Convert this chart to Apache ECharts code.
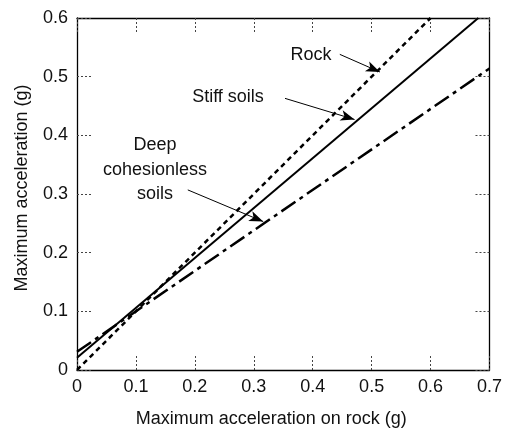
<!DOCTYPE html>
<html>
<head>
<meta charset="utf-8">
<script src="https://cdn.jsdelivr.net/npm/echarts@6/dist/echarts.min.js"></script>
<style>html,body{margin:0;padding:0;background:#fff;}#c{width:505px;height:433px;}</style>
</head>
<body>
<div id="c"></div>
<script>
// Data
const xTicks = [0, 0.1, 0.2, 0.3, 0.4, 0.5, 0.6, 0.7];
const yTicks = [0, 0.1, 0.2, 0.3, 0.4, 0.5, 0.6];
const rockX = [0, 0.6];
const rockY = [0, 0.6];
const stiffX = [0, 0.681];
const stiffY = [0.021, 0.6];
const deepX = [0, 0.7];
const deepY = [0.031, 0.514];
// annotation arrows [fromX, fromY, toX, toY]
const rockArrow = [0.446, 0.538, 0.514, 0.508];
const stiffArrow = [0.353, 0.463, 0.471, 0.427];
const deepArrow = [0.188, 0.307, 0.316, 0.253];

const FONT = '"Liberation Sans", Arial, Helvetica, sans-serif';
const FS = 18;
const zip = (xs, ys) => xs.map((x, i) => [x, ys[i]]);

const chart = echarts.init(document.getElementById('c'), null, {renderer: 'canvas'});

const tickStyle = {show: true, inside: true, length: 15, lineStyle: {color: '#444', width: 1, type: [2, 2]}};
const lineAxis = {show: true, onZero: false, lineStyle: {color: '#000', width: 1.3}};

function arrow(a) {
  return {
    silent: true,
    symbol: ['none', 'arrow'],
    symbolSize: [8, 14],
    label: {show: false},
    lineStyle: {color: '#000', width: 1, type: 'solid'},
    data: [[{coord: [a[0], a[1]]}, {coord: [a[2], a[3]]}]]
  };
}

function txt(s, x, y) {
  return {type: 'text', x: x, y: y, style: {text: s, font: FS + 'px ' + FONT, fill: '#111', align: 'center', verticalAlign: 'middle'}};
}

const option = {
  animation: false,
  backgroundColor: '#fff',
  textStyle: {fontFamily: FONT},
  grid: {left: 77, right: 15, top: 18, bottom: 57},
  xAxis: [{
    type: 'value', min: 0, max: 0.7, interval: 0.1, position: 'bottom',
    axisLine: lineAxis, axisTick: tickStyle, splitLine: {show: false},
    axisLabel: {color: '#111', fontSize: FS, fontFamily: FONT, margin: 8,
      formatter: v => (Math.round(v * 10) / 10).toString()},
    name: 'Maximum acceleration on rock (g)', nameLocation: 'middle', nameGap: 40,
    nameTextStyle: {color: '#111', fontSize: FS, fontFamily: FONT, padding: [0, 24, 0, 0]}
  }, {
    type: 'value', min: 0, max: 0.7, interval: 0.1, position: 'top',
    axisLine: lineAxis, axisTick: tickStyle, axisLabel: {show: false}, splitLine: {show: false}
  }],
  yAxis: [{
    type: 'value', min: 0, max: 0.6, interval: 0.1, position: 'left',
    axisLine: lineAxis, axisTick: tickStyle, splitLine: {show: false},
    axisLabel: {color: '#111', fontSize: FS, fontFamily: FONT, margin: 9,
      formatter: v => (Math.round(v * 10) / 10).toString()},
    name: 'Maximum acceleration (g)', nameLocation: 'middle', nameGap: 46, nameRotate: 90,
    nameTextStyle: {color: '#111', fontSize: FS, fontFamily: FONT, padding: [0, 0, 0, 12]}
  }, {
    type: 'value', min: 0, max: 0.6, interval: 0.1, position: 'right',
    axisLine: lineAxis, axisTick: tickStyle, axisLabel: {show: false}, splitLine: {show: false}
  }],
  series: [{
    name: 'Rock', type: 'line', data: zip(rockX, rockY), symbol: 'none',
    lineStyle: {color: '#000', width: 2.5, type: [5, 4]},
    markLine: arrow(rockArrow)
  }, {
    name: 'Stiff soils', type: 'line', data: zip(stiffX, stiffY), symbol: 'none',
    lineStyle: {color: '#000', width: 2},
    markLine: arrow(stiffArrow)
  }, {
    name: 'Deep cohesionless soils', type: 'line', data: zip(deepX, deepY), symbol: 'none',
    lineStyle: {color: '#000', width: 2.5, type: [17, 5, 4, 5]},
    markLine: arrow(deepArrow)
  }],
  graphic: [
    txt('Rock', 311, 55),
    txt('Stiff soils', 228, 97),
    txt('Deep', 155, 145),
    txt('cohesionless', 155, 170),
    txt('soils', 155, 194)
  ]
};
chart.setOption(option);
</script>
</body>
</html>
